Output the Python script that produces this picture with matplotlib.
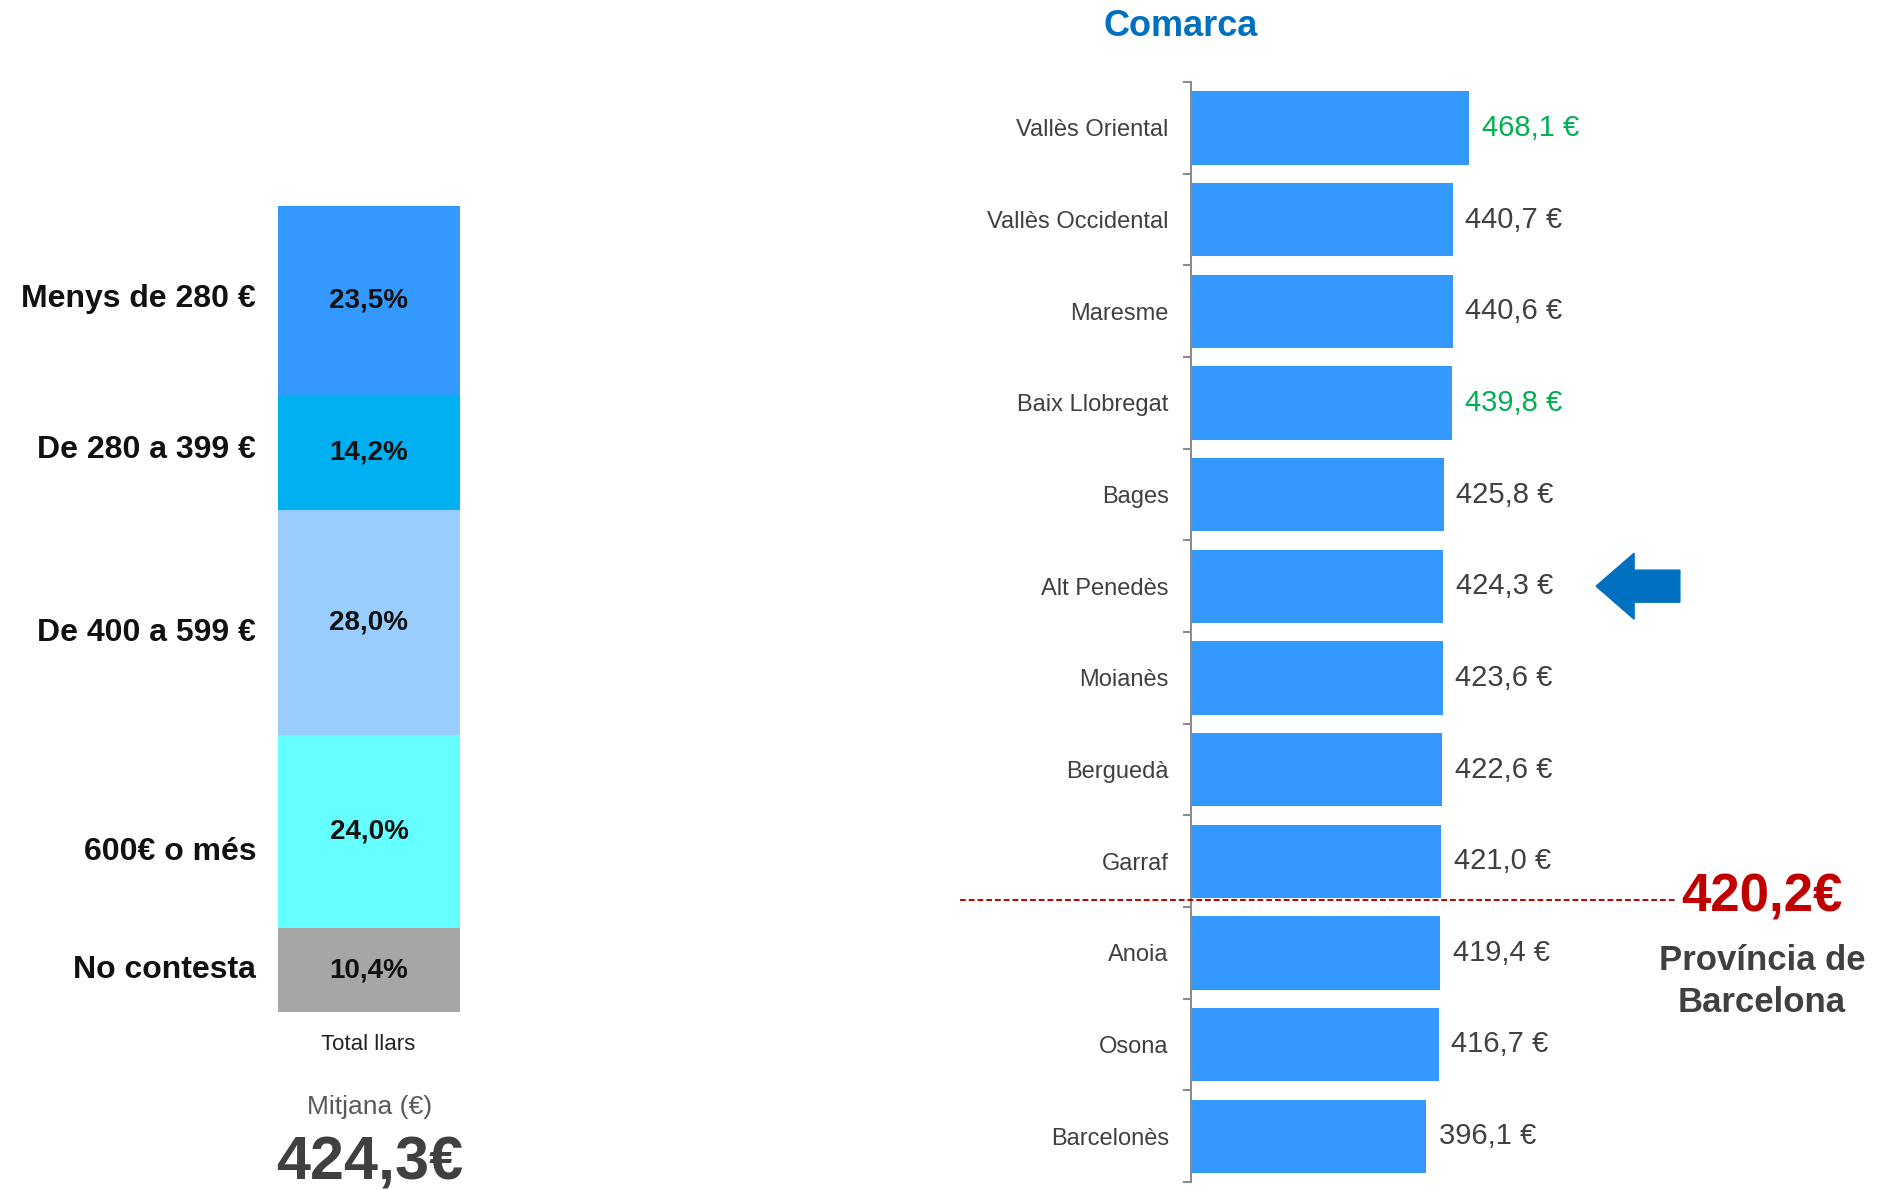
import matplotlib
matplotlib.use('Agg')
import matplotlib.pyplot as plt
import numpy as np
from matplotlib import font_manager

# dades
trams = ['Menys de 280 €', 'De 280 a 399 €', 'De 400 a 599 €', '600€ o més', 'No contesta']
trams_pct = [23.5, 14.2, 28.0, 24.0, 10.4]
trams_colors = ['#3399FF', '#00B0F0', '#99CCFF', '#66FFFF', '#A6A6A6']
mitjana_total = 424.3

comarques = ['Vallès Oriental', 'Vallès Occidental', 'Maresme', 'Baix Llobregat', 'Bages',
             'Alt Penedès', 'Moianès', 'Berguedà', 'Garraf', 'Anoia', 'Osona', 'Barcelonès']
comarques_val = [468.1, 440.7, 440.6, 439.8, 425.8, 424.3, 423.6, 422.6, 421.0, 419.4, 416.7, 396.1]
comarques_verd = ['Vallès Oriental', 'Baix Llobregat']
comarca_fletxa = 'Alt Penedès'
mitjana_provincia = 420.2

# petits desplaçaments verticals de les etiquetes dels trams (punts)
trams_nudge = [1, 2, -8, -15, 0]

names = {f.name for f in font_manager.fontManager.ttflist}
narrow = 'Liberation Sans Narrow' if 'Liberation Sans Narrow' in names else 'Liberation Sans'
plt.rcParams['font.family'] = 'Liberation Sans'

W, H = 1882, 1190
fig = plt.figure(figsize=(W / 100, H / 100), dpi=100)


def fx(px):
    return px / W


def fy(py):
    return 1 - py / H


def fmt(v, suffix):
    return f'{v:.1f}'.replace('.', ',') + suffix


# ---- barra apilada (total llars) ----
ax1 = fig.add_axes([fx(278), fy(1012), fx(460 - 278), (1012 - 206) / H])
bottom = 0
for lab, val, col, nd in zip(trams, trams_pct, trams_colors, trams_nudge):
    ax1.bar(0, val, bottom=bottom, width=1, color=col, edgecolor='none')
    mid = bottom + val / 2
    ax1.text(0, mid, fmt(val, '%'), ha='center', va='center', fontsize=20,
             fontweight='bold', color='#111111')
    ax1.annotate(lab, xy=(-0.62, mid), xytext=(0, nd), textcoords='offset points',
                 annotation_clip=False, ha='right', va='center', fontsize=23,
                 fontweight='bold', color='#111111')
    bottom += val
ax1.set_xlim(-0.5, 0.5)
ax1.set_ylim(bottom, 0)
ax1.axis('off')

fig.text(fx(368), fy(1044), 'Total llars', ha='center', va='center', fontsize=16, color='#222222')
fig.text(fx(370), fy(1107), 'Mitjana (€)', ha='center', va='center', fontsize=19, color='#595959')
fig.text(fx(370), fy(1164), fmt(mitjana_total, '€'), ha='center', va='center', fontsize=44,
         fontweight='bold', color='#404040')

# ---- comarques ----
scale = 0.594  # px per euro
xmax = 700
ax2 = fig.add_axes([fx(1191), fy(1182), xmax * scale / W, (1182 - 82) / H])
y = np.arange(len(comarques))
ax2.barh(y, comarques_val, height=0.8, color='#3399FF', edgecolor='none', zorder=2)
ax2.set_xlim(0, xmax)
ax2.set_ylim(len(comarques) - 0.5, -0.5)
for s in ['top', 'right', 'bottom']:
    ax2.spines[s].set_visible(False)
ax2.spines['left'].set_color('#8C8C8C')
ax2.spines['left'].set_linewidth(1.5)
ax2.set_xticks([])
ax2.set_yticks(y, comarques)
ax2.set_yticks(np.arange(-0.5, len(comarques), 1), minor=True)
ax2.tick_params(axis='y', which='major', length=0, pad=16, labelsize=17, labelcolor='#404040')
ax2.tick_params(axis='y', which='minor', length=6, width=1.5, color='#8C8C8C')

for i, (name, v) in enumerate(zip(comarques, comarques_val)):
    col = '#00B050' if name in comarques_verd else '#404040'
    ax2.annotate(fmt(v, ' €'), xy=(v, i), xytext=(9, 0), textcoords='offset points',
                 ha='left', va='center', fontsize=21, color=col, family=narrow)

# fletxa
ia = comarques.index(comarca_fletxa)
ax2.arrow(823, ia, -141, 0, width=0.35, head_width=0.72, head_length=64,
          length_includes_head=True, color='#0070C0', clip_on=False, zorder=3)

# linia mitjana provincia
n_above = sum(v > mitjana_provincia for v in comarques_val)
yl = n_above - 0.5 - 0.08
ax2.plot([-0.555, 1.168], [yl, yl], transform=ax2.get_yaxis_transform(), clip_on=False,
         color='#C00000', ls=(0, (3, 1.5)), lw=1.4, zorder=4)

fig.text(fx(1762), fy(897), fmt(mitjana_provincia, '€'), ha='center', va='center',
         fontsize=38, fontweight='bold', color='#C00000', family=narrow)
fig.text(fx(1762), fy(960), 'Província de', ha='center', va='center', fontsize=25,
         fontweight='bold', color='#404040')
fig.text(fx(1762), fy(1002), 'Barcelona', ha='center', va='center', fontsize=25,
         fontweight='bold', color='#404040')

fig.text(fx(1181), fy(26), 'Comarca', ha='center', va='center', fontsize=26,
         fontweight='bold', color='#0070C0')

fig.savefig('out.png', dpi=100)
